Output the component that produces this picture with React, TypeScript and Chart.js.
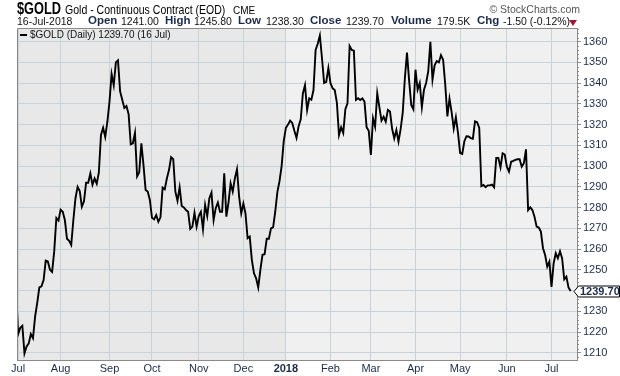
import React, { useEffect, useRef } from "react";
import { Chart, registerables } from "chart.js";
Chart.register(...registerables);

// ---- data (daily closes) ----
const prevClose = [1242.0]; // 30 Jun 2017, enters at the left edge
const jul17 = [1219.0, 1222.0, 1223.0, 1209.7, 1213.0, 1214.5, 1219.0, 1217.0, 1227.4, 1234.0, 1241.5, 1242.0, 1245.0, 1254.4, 1254.0, 1250.0, 1249.0, 1259.0, 1275.0, 1273.7];
const aug17 = [1279.0, 1278.0, 1274.0, 1265.0, 1264.0, 1262.0, 1274.0, 1284.5, 1290.0, 1288.0, 1280.4, 1283.0, 1292.0, 1292.0, 1296.5, 1291.0, 1294.0, 1291.5, 1297.0, 1315.0, 1318.5, 1314.0, 1321.4];
const sep17 = [1331.0, 1344.4, 1339.0, 1350.0, 1351.0, 1336.0, 1332.0, 1328.0, 1329.0, 1325.0, 1310.5, 1311.0, 1316.0, 1295.0, 1297.0, 1311.0, 1300.5, 1288.5, 1287.7, 1283.7];
const oct17 = [1275.1, 1274.3, 1276.4, 1273.2, 1275.3, 1289.6, 1288.8, 1294.0, 1298.1, 1304.3, 1303.3, 1287.7, 1283.3, 1289.8, 1280.8, 1280.1, 1278.8, 1278.0, 1269.7, 1270.8, 1277.5, 1270.8];
const nov17 = [1275.9, 1278.0, 1269.5, 1281.3, 1275.9, 1284.5, 1287.2, 1274.0, 1279.7, 1282.4, 1278.0, 1278.0, 1296.5, 1275.6, 1282.4, 1291.7, 1287.7, 1294.1, 1298.5, 1285.3, 1277.2];
const dec17 = [1282.0, 1277.2, 1265.2, 1266.0, 1254.7, 1248.3, 1245.9, 1241.5, 1250.0, 1257.2, 1257.5, 1265.0, 1265.0, 1270.0, 1270.5, 1278.0, 1287.5, 1292.7, 1300.0, 1312.0];
const jan18 = [1318.4, 1320.0, 1321.9, 1320.8, 1317.0, 1313.6, 1319.2, 1322.6, 1335.0, 1339.0, 1327.0, 1332.7, 1332.0, 1336.7, 1356.0, 1359.0, 1363.0, 1352.0, 1340.1, 1340.6, 1347.3];
const feb18 = [1340.0, 1337.5, 1336.7, 1330.6, 1315.0, 1318.7, 1316.0, 1327.4, 1330.3, 1357.9, 1356.0, 1355.7, 1331.9, 1332.7, 1331.9, 1332.7, 1331.1, 1318.7, 1317.0];
const mar18 = [1305.4, 1323.1, 1319.0, 1335.1, 1328.4, 1321.9, 1323.8, 1321.4, 1327.1, 1326.3, 1318.0, 1313.4, 1317.4, 1311.8, 1317.8, 1325.8, 1342.4, 1354.7, 1341.2, 1329.5, 1327.4];
const apr18 = [1346.5, 1336.9, 1340.1, 1328.4, 1336.9, 1340.1, 1345.7, 1359.9, 1341.7, 1348.6, 1350.6, 1350.0, 1353.5, 1351.3, 1339.3, 1324.0, 1332.5, 1326.0, 1318.1, 1323.6, 1316.0];
const may18 = [1306.3, 1305.9, 1312.0, 1314.4, 1314.3, 1313.5, 1313.2, 1321.6, 1321.2, 1318.4, 1290.3, 1290.9, 1289.8, 1290.7, 1290.7, 1291.1, 1289.8, 1303.9, 1303.9, 1299.4, 1306.2, 1305.6];
const jun18 = [1299.7, 1297.3, 1302.1, 1302.5, 1303.0, 1303.3, 1303.3, 1299.7, 1301.4, 1308.1, 1278.8, 1280.1, 1278.8, 1275.6, 1270.8, 1270.4, 1268.4, 1260.4, 1257.1, 1251.5, 1253.9];
const jul18 = [1241.8, 1253.1, 1258.0, 1255.6, 1258.9, 1255.5, 1245.4, 1246.7, 1241.5, 1239.7];

const monthLabels = ["Jul", "Aug", "Sep", "Oct", "Nov", "Dec", "2018", "Feb", "Mar", "Apr", "May", "Jun", "Jul"];
const yTickValues = [1210, 1220, 1230, 1240, 1250, 1260, 1270, 1280, 1290, 1300, 1310, 1320, 1330, 1340, 1350, 1360];
const lastClose = 1239.7;
const lastLabel = "1239.70";

const FONT = '"Liberation Sans", Arial, sans-serif';
const NAVY = "#1c2b4a";
const GRID = "#c9d1dc";
const FRAME = "#8a8a8a";

const monthSeries = [jul17, aug17, sep17, oct17, nov17, dec17, jan18, feb18, mar18, apr18, may18, jun18, jul18];

function buildPoints() {
  const pts: { x: number; y: number }[] = [];
  prevClose.forEach((v) => pts.push({ x: pts.length, y: v }));
  const starts: number[] = [];
  monthSeries.forEach((arr) => {
    starts.push(pts.length);
    arr.forEach((v) => pts.push({ x: pts.length, y: v }));
  });
  return { pts, starts };
}

const T = (p: any) => {
  const top = p.base - 0.85 * p.size;
  const style: any = {
    position: "absolute",
    top,
    fontSize: p.size,
    lineHeight: `${p.size}px`,
    fontWeight: p.bold ? "bold" : "normal",
    color: p.color || "#111",
    whiteSpace: "nowrap",
    fontFamily: FONT,
  };
  if (p.right !== undefined) style.right = p.right;
  else style.left = p.x;
  if (p.sx) {
    style.transform = `scaleX(${p.sx})`;
    style.transformOrigin = "left top";
  }
  return <span style={style}>{p.children}</span>;
};

export default function App() {
  const ref = useRef<HTMLCanvasElement>(null);

  useEffect(() => {
    const { pts, starts } = buildPoints();
    const bgPlugin = {
      id: "bg",
      beforeDraw(chart: any) {
        const { ctx, chartArea, scales } = chart;
        const { left, right, top, bottom } = chartArea;
        const split = scales.x.getPixelForValue(starts[6]);
        ctx.save();
        ctx.fillStyle = "#e8e8e8";
        ctx.fillRect(left, top, split - left, bottom - top);
        ctx.fillStyle = "#f0f0f0";
        ctx.fillRect(split, top, right - split, bottom - top);
        ctx.restore();
      },
      afterDraw(chart: any) {
        const { ctx, chartArea, scales } = chart;
        const { left, right, top, bottom } = chartArea;
        ctx.save();
        ctx.strokeStyle = FRAME;
        ctx.lineWidth = 1;
        ctx.beginPath();
        ctx.moveTo(left + 0.5, bottom);
        ctx.lineTo(left + 0.5, top + 0.5);
        ctx.lineTo(right, top + 0.5);
        ctx.stroke();
        // minor ticks on right axis
        ctx.beginPath();
        for (let v = 1208; v <= 1366; v += 2) {
          if (v % 10 === 0) continue;
          const y = Math.round(scales.y.getPixelForValue(v)) + 0.5;
          ctx.moveTo(right, y);
          ctx.lineTo(right + 2, y);
        }
        ctx.stroke();
        // last value box
        const yv = scales.y.getPixelForValue(lastClose);
        const yc = Math.round(yv) + 0.5;
        ctx.beginPath();
        ctx.moveTo(right - 3, yc);
        ctx.lineTo(right + 1.5, yc - 5.5);
        ctx.lineTo(619.5, yc - 5.5);
        ctx.lineTo(619.5, yc + 5.5);
        ctx.lineTo(right + 1.5, yc + 5.5);
        ctx.closePath();
        ctx.fillStyle = "#fff";
        ctx.fill();
        ctx.strokeStyle = "#000";
        ctx.stroke();
        ctx.fillStyle = NAVY;
        ctx.font = `bold 11px ${FONT}`;
        ctx.textBaseline = "middle";
        ctx.textAlign = "left";
        ctx.fillText(lastLabel, right + 3, yc + 0.5);
        ctx.restore();
      },
    };

    const chart = new Chart(ref.current as HTMLCanvasElement, {
      type: "line",
      data: {
        datasets: [
          {
            data: pts,
            borderColor: "#000",
            borderWidth: 1.9,
            pointRadius: 0,
            tension: 0,
            fill: false,
          },
        ],
      },
      options: {
        animation: false,
        responsive: false,
        maintainAspectRatio: false,
        layout: { padding: { left: 17, top: 28, right: 0, bottom: 0 } },
        plugins: { legend: { display: false }, tooltip: { enabled: false } },
        scales: {
          x: {
            type: "linear",
            min: 0.48,
            max: 264,
            afterBuildTicks: (s: any) => {
              s.ticks = starts.map((v) => ({ value: v }));
            },
            afterFit: (s: any) => {
              s.height = 16;
            },
            grid: { color: GRID, drawTicks: false, lineWidth: 1 },
            border: { display: true, color: FRAME },
            ticks: {
              autoSkip: false,
              maxRotation: 0,
              padding: 2,
              color: NAVY,
              callback: (_v: any, i: number) => monthLabels[i],
              font: (c: any) => ({ family: FONT, size: 11, weight: c.index === 6 ? "bold" : "normal" }),
            },
          },
          y: {
            type: "linear",
            position: "right",
            min: 1206.5,
            max: 1366.6,
            afterBuildTicks: (s: any) => {
              s.ticks = yTickValues.map((v) => ({ value: v }));
            },
            afterFit: (s: any) => {
              s.width = 43;
            },
            grid: { color: GRID, tickLength: 4, tickColor: FRAME, lineWidth: 1 },
            border: { display: true, color: FRAME },
            ticks: {
              padding: 2,
              color: NAVY,
              font: { family: FONT, size: 11 },
              callback: (v: any) => String(v),
            },
          },
        },
      } as any,
      plugins: [bgPlugin],
    });
    return () => chart.destroy();
  }, []);

  return (
    <div
      style={{
        position: "fixed",
        left: 0,
        top: 0,
        width: 620,
        height: 376,
        background: "#fff",
        overflow: "hidden",
        fontFamily: FONT,
      }}
    >
      <canvas
        ref={ref}
        width={620}
        height={376}
        style={{ position: "absolute", left: 0, top: 0, width: 620, height: 376, display: "block" }}
      />
      <T x={17} base={14.5} size={16} bold sx={0.8} color="#000">$GOLD</T>
      <T x={65} base={14.5} size={13} sx={0.81} color="#000">Gold - Continuous Contract (EOD)</T>
      <T x={233} base={14.5} size={10} color="#000">CME</T>
      <T right={40} base={13} size={10.5} color="#555">© StockCharts.com</T>

      <T x={17} base={25} size={10.5}>16-Jul-2018</T>
      <T x={88} base={25} size={11.5} bold color={NAVY}>Open</T>
      <T x={121} base={25} size={10.5}>1241.00</T>
      <T x={165} base={25} size={11.5} bold color={NAVY}>High</T>
      <T x={194} base={25} size={10.5}>1245.80</T>
      <T x={238} base={25} size={11.5} bold color={NAVY}>Low</T>
      <T x={266} base={25} size={10.5}>1238.30</T>
      <T x={310} base={25} size={11.5} bold color={NAVY}>Close</T>
      <T x={346} base={25} size={10.5}>1239.70</T>
      <T x={391} base={25} size={11.5} bold color={NAVY}>Volume</T>
      <T x={437} base={25} size={10.5}>179.5K</T>
      <T x={477} base={25} size={11.5} bold color={NAVY}>Chg</T>
      <T x={503} base={25} size={10.5}>-1.50 (-0.12%)</T>
      <div
        style={{
          position: "absolute",
          left: 569,
          top: 19.5,
          width: 0,
          height: 0,
          borderLeft: "4px solid transparent",
          borderRight: "4px solid transparent",
          borderTop: "6px solid #a3133a",
        }}
      />

      <div style={{ position: "absolute", left: 20, top: 34, width: 7, height: 2, background: "#000" }} />
      <T x={30} base={38.5} size={10} color="#111">$GOLD (Daily) 1239.70 (16 Jul)</T>
    </div>
  );
}
